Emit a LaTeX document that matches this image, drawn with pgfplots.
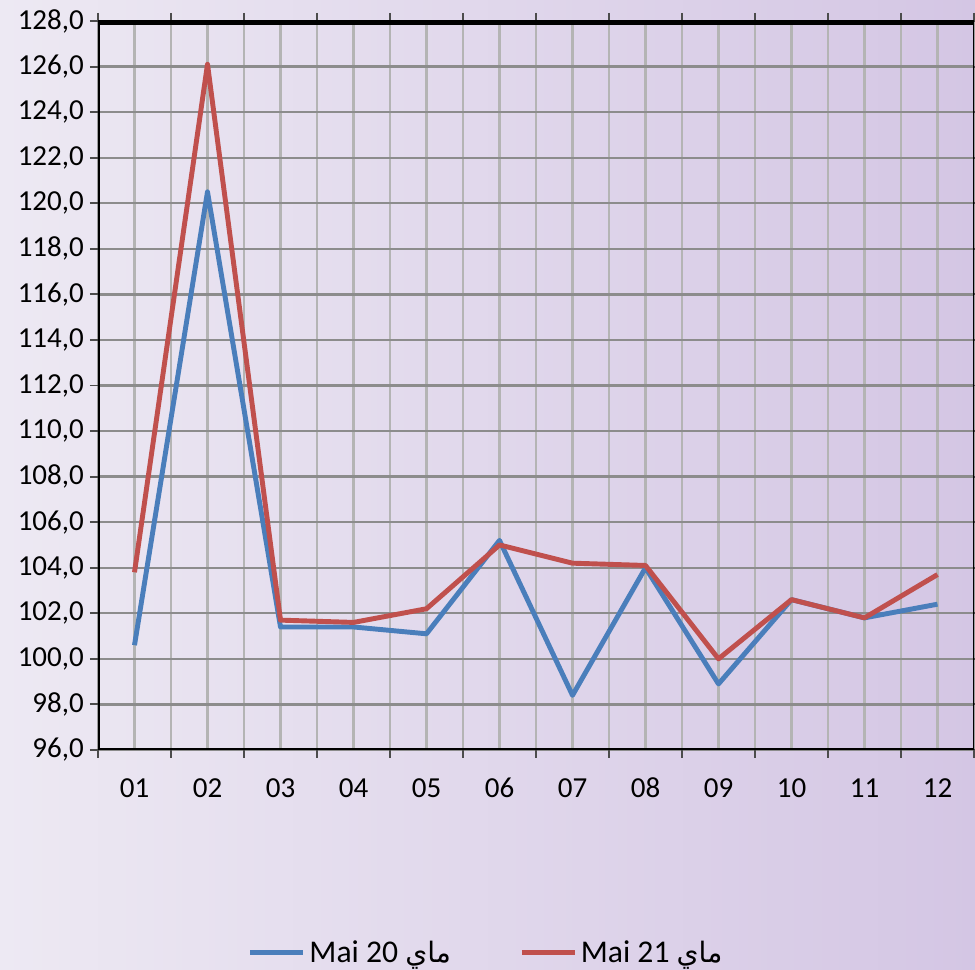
\documentclass[border=0pt]{standalone}
\usepackage{fontspec}
\setmainfont{Carlito}
\newfontfamily\arabicfont[Script=Arabic]{DejaVu Sans}
\TeXXeTstate=1
\usepackage{pgfplots}
\pgfplotsset{compat=1.18}
\usetikzlibrary{backgrounds}
\definecolor{serA}{RGB}{74,126,187}
\definecolor{serB}{RGB}{192,80,77}
\definecolor{bgL}{RGB}{237,233,243}
\definecolor{bgR}{RGB}{212,198,228}
\definecolor{gridV}{RGB}{180,180,180}
\definecolor{gridH}{RGB}{140,140,140}
\begin{document}
\begin{tikzpicture}
\useasboundingbox (0,0) rectangle (19.5cm,19.4cm);
\begin{axis}[
  at={(1.96cm,4.40cm)}, anchor=south west,
  width=17.52cm, height=14.58cm, scale only axis,
  xmin=0.5, xmax=12.5, ymin=96, ymax=128,
  xtick={1,...,12},
  xticklabels={01,02,03,04,05,06,07,08,09,10,11,12},
  minor xtick={0.5,1.5,...,12.5},
  ytick={96,98,...,128},
  xmajorgrids, xminorgrids, ymajorgrids,
  major x grid style={gridV, line width=1.3pt},
  minor x grid style={gridV, line width=1.3pt},
  major y grid style={gridH, line width=1.3pt},
  tick align=outside,
  major tick length=0.16cm, minor tick length=0.16cm,
  major x tick style={draw=none},
  minor x tick style={draw=black!70, line width=1.1pt},
  ytick style={draw=black!70, line width=1.1pt},
  axis line style={draw=none},
  ticklabel style={font=\fontsize{16.5}{19}\selectfont},
  yticklabel style={/pgf/number format/.cd, fixed, fixed zerofill, precision=1, use comma, assume math mode=true},
  xticklabel style={yshift=-0.4cm, text height=1.6ex, text depth=0.2ex},
  legend columns=2,
  legend style={at={(0.444,-0.278)}, anchor=center, draw=none, fill=none,
    font=\fontsize{18}{21}\selectfont,
    /tikz/every even column/.append style={column sep=1.3cm}},
  legend image code/.code={\draw[#1] (0cm,0cm) -- (1.06cm,0cm);},
]
\addplot[serA, line width=2.8pt, line join=round] coordinates {
(1,100.6) (2,120.5) (3,101.4) (4,101.4) (5,101.1) (6,105.2)
(7,98.4) (8,104.0) (9,98.9) (10,102.6) (11,101.8) (12,102.4)};
\addplot[serB, line width=2.8pt, line join=round] coordinates {
(1,103.8) (2,126.1) (3,101.7) (4,101.6) (5,102.2) (6,105.0)
(7,104.2) (8,104.1) (9,100.0) (10,102.6) (11,101.8) (12,103.7)};
\legend{Mai 20 {\arabicfont\fontsize{16}{19}\selectfont\beginR ماي\endR}, Mai 21 {\arabicfont\fontsize{16}{19}\selectfont\beginR ماي\endR}}
\draw[black, line width=4pt] (rel axis cs:0,1) -- (rel axis cs:1,1);
\draw[black, line width=2.5pt] (rel axis cs:0,0) -- (rel axis cs:0,1);
\draw[black, line width=2.5pt] (rel axis cs:0,0) -- (rel axis cs:1,0);
\draw[black, line width=1.1pt] (rel axis cs:1,0) -- (rel axis cs:1,1);
\end{axis}
\begin{scope}[on background layer]
\fill[left color=bgL, right color=bgR] (0,0) rectangle (19.5cm,19.4cm);
\end{scope}
\end{tikzpicture}
\end{document}
